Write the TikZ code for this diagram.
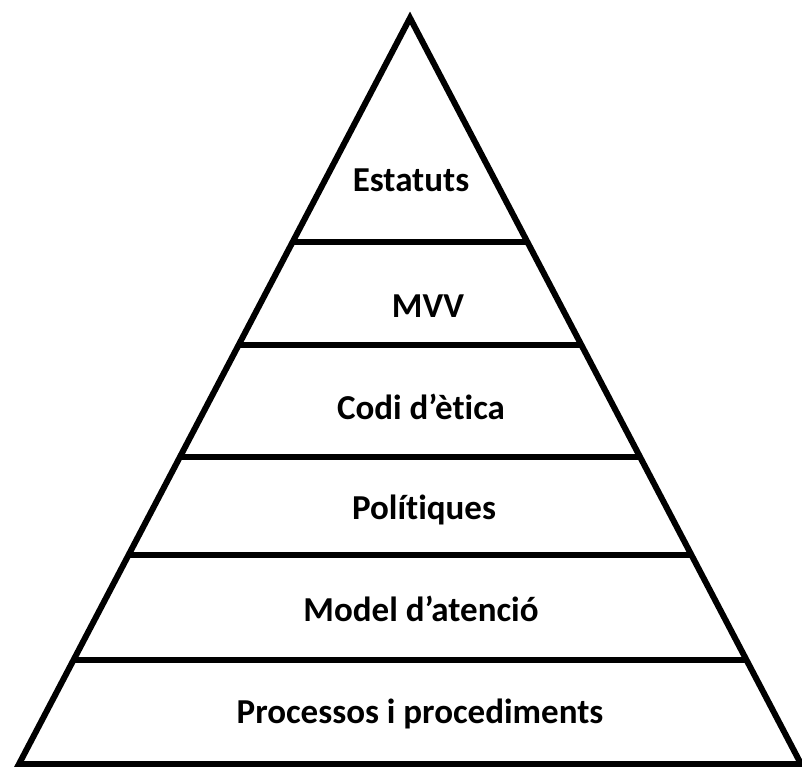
\documentclass[tikz,border=0pt]{standalone}
\usepackage{fontspec}
\setmainfont[Ligatures=NoCommon]{Carlito}
\usetikzlibrary{calc}
\begin{document}
\begin{tikzpicture}[x=1pt,y=-1pt,
  edge/.style={line width=6pt,line join=miter},
  level/.style={font=\bfseries\fontsize{35}{35}\selectfont,anchor=base,inner sep=0pt}]
\useasboundingbox (0,0) rectangle (802,766);
\coordinate (A) at (410,18);
\coordinate (L) at (19,764);
\coordinate (R) at (801,764);
\draw[edge] (L) -- (A) -- (R) -- cycle;
\foreach \t in {0.3003,0.4383,0.5885,0.7198,0.8606}
  \draw[edge] ($(A)!\t!(L)$) -- ($(A)!\t!(R)$);
\node[level] (l1) at (411,191) {Estatuts};
\node[level] (l2) at (428,317) {MVV};
\node[level] (l3) at (421,419) {Codi d’ètica};
\node[level] (l4) at (424,519) {Polítiques};
\node[level] (l5) at (421,621) {Model d’atenció};
\node[level] (l6) at (420,723) {Processos i procediments};
\end{tikzpicture}
\end{document}
